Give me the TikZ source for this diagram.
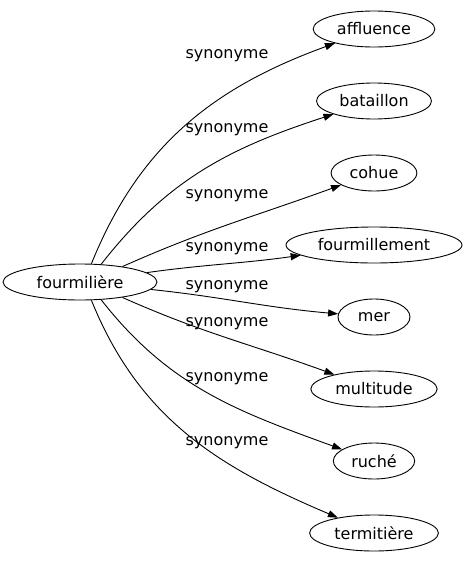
\documentclass[tikz,border=0pt]{standalone}
\usepackage{fontspec}
\setmainfont{DejaVu Sans}
\usetikzlibrary{arrows.meta,shapes.geometric}

\tikzset{
  mot/.style={draw,ellipse,line width=0.9pt,minimum width=72pt,minimum height=36pt,
    inner xsep=6pt,inner ysep=0pt,font=\fontsize{16}{19}\selectfont},
  syn/.style={font=\fontsize{16}{19}\selectfont,inner sep=0pt},
  lien/.style={->,line width=0.9pt}
}

\begin{document}
\begin{tikzpicture}[>={Triangle[length=10pt,width=7pt]},x=1pt,y=1pt]
  \useasboundingbox (0,0) rectangle (467,-563);
  \node[mot,minimum width=154pt] (fourmiliere) at (80,-282) {fourmilière};
  \node[mot] (affluence) at (374,-29) {affluence};
  \node[mot] (bataillon) at (374,-101) {bataillon};
  \node[mot] (cohue) at (374,-173) {cohue};
  \node[mot] (fourmillement) at (374,-245) {fourmillement};
  \node[mot] (mer) at (374,-317) {mer};
  \node[mot] (multitude) at (374,-389) {multitude};
  \node[mot] (ruche) at (374,-461) {ruché};
  \node[mot] (termitiere) at (374,-533) {termitière};

  \draw[lien] (fourmiliere.58) to[out=68,in=200] (affluence);
  \draw[lien] (fourmiliere.40) to[out=52,in=198] (bataillon);
  \draw[lien] (fourmiliere.20) to[out=24,in=200] (cohue);
  \draw[lien] (fourmiliere) to[out=8,in=188] (fourmillement);
  \draw[lien] (fourmiliere) to[out=-6,in=175] (mer);
  \draw[lien] (fourmiliere.-20) to[out=-24,in=160] (multitude);
  \draw[lien] (fourmiliere.-40) to[out=-52,in=160] (ruche);
  \draw[lien] (fourmiliere.-58) to[out=-68,in=157] (termitiere);

  \node[syn] (s1) at (227,-56) {synonyme};
  \node[syn] (s2) at (227,-130) {synonyme};
  \node[syn] (s3) at (227,-196) {synonyme};
  \node[syn] (s4) at (227,-249) {synonyme};
  \node[syn] (s5) at (227,-287) {synonyme};
  \node[syn] (s6) at (227,-324) {synonyme};
  \node[syn] (s7) at (227,-379) {synonyme};
  \node[syn] (s8) at (227,-443) {synonyme};
\end{tikzpicture}
\end{document}
